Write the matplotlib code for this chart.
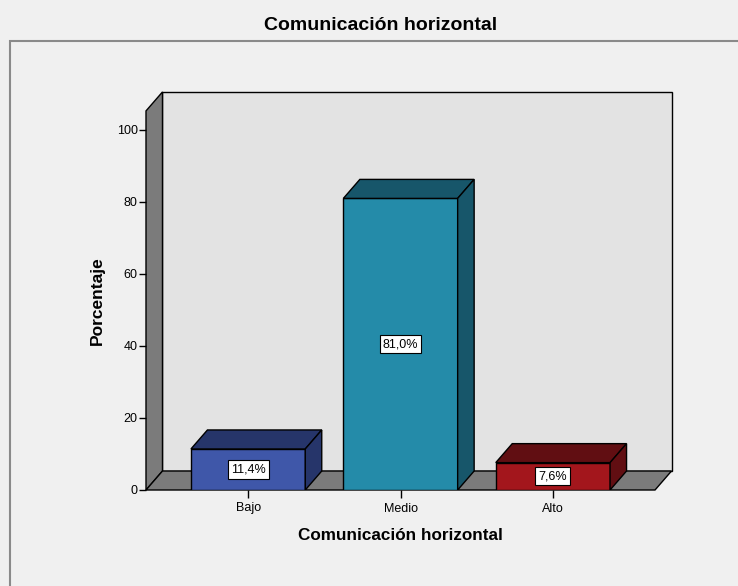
import numpy as np
import matplotlib
matplotlib.use("Agg")
import matplotlib.pyplot as plt
from matplotlib.patches import Polygon, Rectangle

plt.rcParams['font.family'] = ['Liberation Sans', 'DejaVu Sans']

categorias = ["Bajo", "Medio", "Alto"]
porcentajes = [11.4, 81.0, 7.6]
etiquetas = ["11,4%", "81,0%", "7,6%"]
col_frente = ["#3f57a9", "#248ba9", "#a3161c"]
col_oscuro = ["#26356a", "#17566a", "#610e12"]

W, H = 738, 586
fig = plt.figure(figsize=(W/100, H/100), dpi=100)
fig.patch.set_facecolor("#f0f0f0")

# marco exterior
fig.patches.append(Rectangle((10/W, -0.1), 1.1, (H-41)/H + 0.1, transform=fig.transFigure,
                             fill=False, edgecolor="#8a8a8a", lw=1.5))

# geometria (pixeles -> datos)
x0, x1 = -0.67, 2.67
dx = 16.5/152.5     # profundidad en x
dy = 19/3.6         # profundidad en y
ytop = 105.3
left_px, zero_px = 146, 490
right_px = 655 + 16.5
top_px = zero_px - (ytop + dy)*3.6
ax = fig.add_axes([left_px/W, (H-zero_px)/H, (right_px-left_px)/W, (zero_px-top_px)/H])
ax.set_xlim(x0, x1 + dx)
ax.set_ylim(0, ytop + dy)
ax.patch.set_visible(False)
for s in ax.spines.values():
    s.set_visible(False)

gris = "#7b7b7b"
# pared del fondo
ax.add_patch(Polygon([(x0+dx, dy), (x1+dx, dy), (x1+dx, ytop+dy), (x0+dx, ytop+dy)],
                     closed=True, facecolor="#e3e3e3", edgecolor="black", lw=1, zorder=1, clip_on=False))
# pared izquierda
ax.add_patch(Polygon([(x0, 0), (x0+dx, dy), (x0+dx, ytop+dy), (x0, ytop)],
                     closed=True, facecolor=gris, edgecolor="black", lw=1, zorder=1, clip_on=False))
# piso
ax.add_patch(Polygon([(x0, 0), (x1, 0), (x1+dx, dy), (x0+dx, dy)],
                     closed=True, facecolor=gris, edgecolor="black", lw=1, zorder=1, clip_on=False))

pos = np.arange(len(categorias))
bw = 0.75
ax.bar(pos, porcentajes, width=bw, color=col_frente, edgecolor="black", lw=1, zorder=3)
for i, v in enumerate(porcentajes):
    a, b = pos[i] - bw/2, pos[i] + bw/2
    ax.add_patch(Polygon([(a, v), (b, v), (b+dx, v+dy), (a+dx, v+dy)], closed=True,
                         facecolor=col_oscuro[i], edgecolor="black", lw=1, zorder=3))
    ax.add_patch(Polygon([(b, 0), (b+dx, dy), (b+dx, v+dy), (b, v)], closed=True,
                         facecolor=col_oscuro[i], edgecolor="black", lw=1, zorder=3))
    ax.text(pos[i], v/2, etiquetas[i], ha="center", va="center", fontsize=9, zorder=5,
            bbox=dict(boxstyle="square,pad=0.25", facecolor="white", edgecolor="black", lw=0.8))

ax.set_yticks([0, 20, 40, 60, 80, 100])
ax.set_xticks(pos)
ax.set_xticklabels(categorias)
ax.tick_params(axis="y", length=5, width=1, labelsize=9, pad=1)
ax.tick_params(axis="x", length=6, width=1, labelsize=9, pad=3)

fig.text(381/W, 1 - 26/H, "Comunicación horizontal", ha="center", va="center",
         fontsize=14, fontweight="bold")
fig.text(400/W, 1 - 535/H, "Comunicación horizontal", ha="center", va="center",
         fontsize=12.3, fontweight="bold")
fig.text(97/W, 1 - 301/H, "Porcentaje", ha="center", va="center", rotation=90,
         fontsize=12.5, fontweight="bold")

fig.savefig("out.png", dpi=100, facecolor=fig.get_facecolor())
